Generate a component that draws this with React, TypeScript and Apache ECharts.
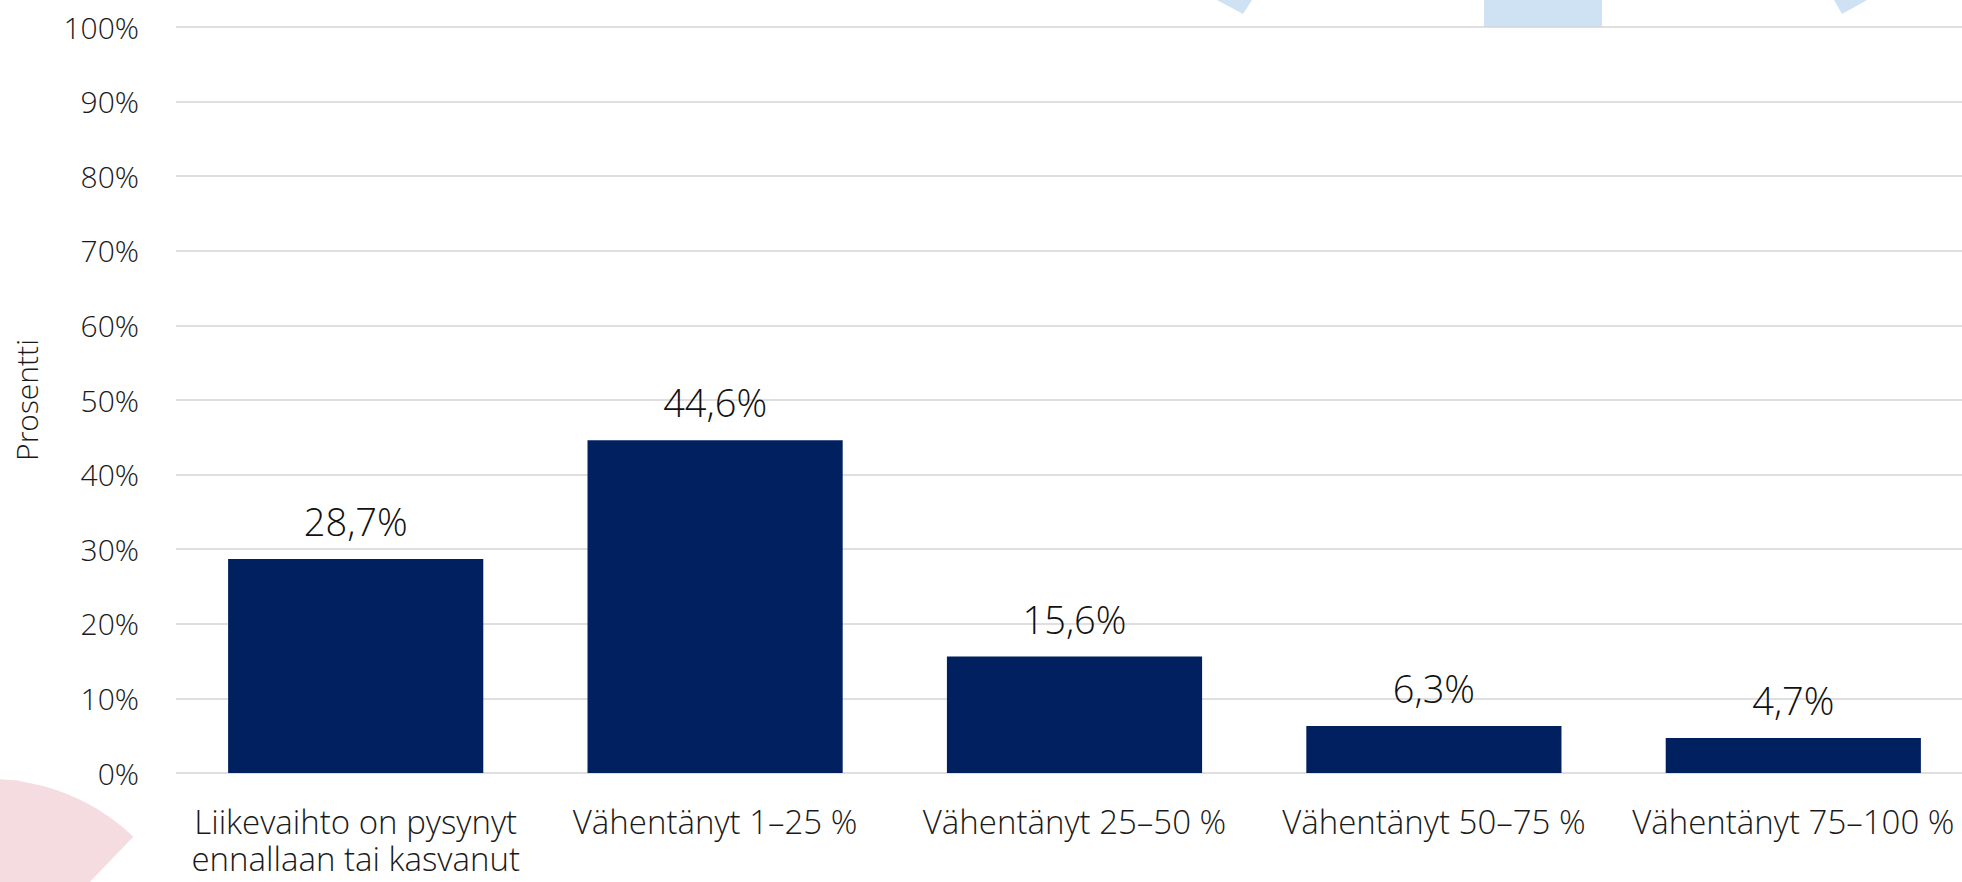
import React, { useEffect, useRef } from "react";
import * as echarts from "echarts";

const categories = [
  "Liikevaihto on pysynyt\nennallaan tai kasvanut",
  "Vähentänyt 1–25 %",
  "Vähentänyt 25–50 %",
  "Vähentänyt 50–75 %",
  "Vähentänyt 75–100 %",
];
const values = [28.7, 44.6, 15.6, 6.3, 4.7];
const yTicks = { min: 0, max: 100, interval: 10 };
const axisName = "Prosentti";

const FONT = "'Open Sans', 'Noto Sans', sans-serif";

export default function App() {
  const ref = useRef<HTMLDivElement>(null);
  useEffect(() => {
    if (!ref.current) return;
    const chart = echarts.init(ref.current, null, { renderer: "svg" });
    chart.setOption({
      animation: false,
      backgroundColor: "#ffffff",
      graphic: [
        {
          type: "sector",
          z: -10,
          shape: { cx: -10, cy: 986, r: 207, r0: 0, startAngle: -Math.PI, endAngle: -0.806, clockwise: true },
          style: { fill: "#f5dce1" },
        },
        {
          type: "polygon",
          z: -10,
          shape: { points: [[1217, 0], [1252, 0], [1243, 14]] },
          style: { fill: "#cfe2f3" },
        },
        {
          type: "polygon",
          z: -10,
          shape: { points: [[1834, 0], [1867, 0], [1842, 14]] },
          style: { fill: "#cfe2f3" },
        },
        {
          type: "rect",
          z: -10,
          shape: { x: 1484, y: 0, width: 118, height: 27 },
          style: { fill: "#cfe2f3" },
        },
      ],
      grid: {
        left: 176,
        top: 27,
        width: 1797,
        height: 746,
        outerBoundsMode: "none",
        containLabel: false,
      },
      xAxis: {
        type: "category",
        data: categories,
        axisLine: { show: false },
        axisTick: { show: false },
        axisLabel: {
          interval: 0,
          margin: 30,
          fontFamily: FONT,
          fontSize: 33,
          fontWeight: 300,
          lineHeight: 37,
          color: "#1a1a1a",
        },
      },
      yAxis: {
        type: "value",
        min: yTicks.min,
        max: yTicks.max,
        interval: yTicks.interval,
        name: axisName,
        nameLocation: "middle",
        nameRotate: 90,
        nameGap: 135,
        nameTextStyle: { fontFamily: FONT, fontSize: 30, fontWeight: 300, color: "#1a1a1a" },
        axisLine: { show: false },
        axisTick: { show: false },
        axisLabel: {
          margin: 37,
          formatter: "{value}%",
          fontFamily: FONT,
          fontSize: 30,
          fontWeight: 300,
          color: "#1a1a1a",
        },
        splitLine: { lineStyle: { color: "#d4d4d4", width: 1.5 } },
      },
      series: [
        {
          type: "bar",
          data: values,
          barWidth: "71%",
          itemStyle: { color: "#01205f" },
          label: {
            show: true,
            position: "top",
            distance: 19,
            fontFamily: FONT,
            fontSize: 38,
            fontWeight: 300,
            color: "#111111",
            formatter: (p: any) => String(p.value).replace(".", ",") + "%",
          },
        },
      ],
    });
    return () => chart.dispose();
  }, []);
  return (
    <div
      ref={ref}
      style={{ position: "fixed", left: 0, top: 0, width: 1962, height: 882 }}
    />
  );
}
